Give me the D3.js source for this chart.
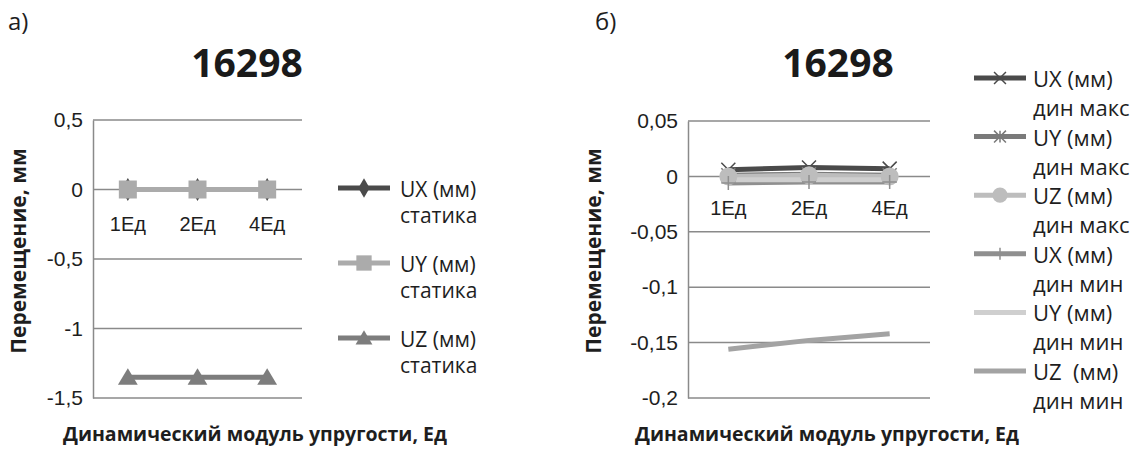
<!DOCTYPE html>
<html>
<head>
<meta charset="utf-8">
<title>16298</title>
<script src="https://cdn.jsdelivr.net/npm/d3@7"></script>
<style>
body { margin: 0; background: #fff; }
svg { font-family: "Open Sans", sans-serif; }
</style>
</head>
<body>
<svg id="chart" width="1138" height="451"></svg>
<script>
// categories (shared by both panels)
var categories = ["1Ед", "2Ед", "4Ед"];

// panel a) static displacement, mm
var staticNames = [["UX (мм)", "статика"], ["UY (мм)", "статика"], ["UZ (мм)", "статика"]];
var uxStatic = [0, 0, 0];
var uyStatic = [0, 0, 0];
var uzStatic = [-1.35, -1.35, -1.35];
var ticksA = [0.5, 0, -0.5, -1, -1.5];

// panel б) dynamic max / min, mm
var dynNames = [["UX (мм)", "дин макс"], ["UY (мм)", "дин макс"], ["UZ (мм)", "дин макс"],
                ["UX (мм)", "дин мин"], ["UY (мм)", "дин мин"], ["UZ  (мм)", "дин мин"]];
var uxMax = [0.006, 0.008, 0.007];
var uyMax = [0.001, 0.002, 0.001];
var uzMax = [0.000, 0.001, 0.000];
var uxMin = [-0.006, -0.005, -0.005];
var uyMin = [-0.003, -0.003, -0.003];
var uzMin = [-0.156, -0.148, -0.142];
var ticksB = [0.05, 0, -0.05, -0.1, -0.15, -0.2];

var svg = d3.select("#chart");
var fmt = function(d) { return String(d).replace(".", ","); };
var gridCol = "#8a8a8a";
var txtCol = "#1e1e1e";

function drawPanel(opt) {
	var g = svg.append("g");
	var x = d3.scaleBand().domain(categories).range([opt.left, opt.right]);
	var y = d3.scaleLinear().domain(opt.domain).range([opt.bottom, opt.top]);

	g.append("text").attr("x", opt.labelX).attr("y", 30)
		.style("font-size", "24px").attr("fill", txtCol).text(opt.label);
	g.append("text").attr("x", opt.titleX).attr("y", 77).attr("text-anchor", "middle")
		.style("font-size", "39px").style("font-weight", "bold").attr("fill", "#1a1a1a").text("16298");

	// gridlines
	g.selectAll(".grid").data(opt.ticks).enter().append("line")
		.attr("x1", opt.left).attr("x2", opt.right)
		.attr("y1", function(d) { return y(d); }).attr("y2", function(d) { return y(d); })
		.attr("stroke", gridCol).attr("stroke-width", 1.5);

	// y axis
	var ya = g.append("g").attr("transform", "translate(" + opt.left + ",0)")
		.call(d3.axisLeft(y).tickValues(opt.ticks).tickFormat(fmt).tickSize(0).tickPadding(10));
	ya.select(".domain").attr("stroke", gridCol).attr("stroke-width", 1.5);
	ya.selectAll("text").style("font-size", "21px").attr("fill", txtCol).attr("font-family", null);

	// category labels under zero line
	var xa = g.append("g").attr("transform", "translate(0," + y(0) + ")")
		.call(d3.axisBottom(x).tickSize(0).tickPadding(opt.catPad));
	xa.select(".domain").remove();
	xa.selectAll("text").style("font-size", "20px").attr("fill", txtCol).attr("font-family", null);

	// axis titles
	g.append("text").attr("transform", "translate(" + opt.yTitleX + ",251) rotate(-90)")
		.attr("text-anchor", "middle").style("font-size", "21px").style("font-weight", "bold")
		.attr("fill", txtCol).text("Перемещение, мм");
	g.append("text").attr("x", opt.xTitleX).attr("y", 441)
		.style("font-size", "19.5px").style("font-weight", "bold")
		.attr("fill", txtCol).text("Динамический модуль упругости, Ед");

	var line = d3.line().x(function(d, i) { return x(categories[i]) + x.bandwidth() / 2; })
		.y(function(d) { return y(d); });

	opt.series.forEach(function(s) {
		g.append("path").datum(s.values).attr("d", line)
			.attr("fill", "none").attr("stroke", s.color).attr("stroke-width", s.width || 5)
			.attr("stroke-linejoin", "round");
	});
	opt.series.forEach(function(s) {
		if (!s.marker) return;
		s.values.forEach(function(v, i) {
			drawMarker(g, s.marker, x(categories[i]) + x.bandwidth() / 2, y(v), s.mcolor || s.color, s.msize);
		});
	});

	// legend
	opt.series.forEach(function(s, i) {
		var ly = opt.legY + i * opt.legStep;
		g.append("line").attr("x1", opt.legX).attr("x2", opt.legX + 52)
			.attr("y1", ly).attr("y2", ly).attr("stroke", s.color).attr("stroke-width", s.width || 5);
		if (s.marker) drawMarker(g, s.marker, opt.legX + 26, ly, s.mcolor || s.color, s.msize * 0.85);
		g.append("text").attr("x", opt.legTextX).attr("y", ly + 9).style("white-space", "pre")
			.style("font-size", opt.legFont).attr("fill", txtCol).text(s.name[0]);
		g.append("text").attr("x", opt.legTextX).attr("y", ly + 9 + opt.legDy)
			.style("font-size", opt.legFont).attr("fill", txtCol).text(s.name[1]);
	});
}

function drawMarker(g, type, cx, cy, color, size) {
	var h = size / 2;
	if (type === "diamond") {
		g.append("path").attr("d", d3.symbol(d3.symbolDiamond, size * size * 0.6)())
			.attr("transform", "translate(" + cx + "," + cy + ")").attr("fill", color);
	} else if (type === "square") {
		g.append("rect").attr("x", cx - h).attr("y", cy - h).attr("width", size).attr("height", size).attr("fill", color);
	} else if (type === "triangle") {
		g.append("path").attr("d", "M" + cx + "," + (cy - h) + "L" + (cx + h * 1.1) + "," + (cy + h * 0.85) + "L" + (cx - h * 1.1) + "," + (cy + h * 0.85) + "Z")
			.attr("fill", color);
	} else if (type === "circle") {
		g.append("circle").attr("cx", cx).attr("cy", cy).attr("r", h).attr("fill", color);
	} else if (type === "x") {
		g.append("path").attr("d", "M" + (cx - h) + "," + (cy - h) + "L" + (cx + h) + "," + (cy + h) + "M" + (cx + h) + "," + (cy - h) + "L" + (cx - h) + "," + (cy + h))
			.attr("stroke", color).attr("stroke-width", 1.5);
	} else if (type === "star") {
		g.append("path").attr("d", "M" + (cx - h) + "," + (cy - h) + "L" + (cx + h) + "," + (cy + h) + "M" + (cx + h) + "," + (cy - h) + "L" + (cx - h) + "," + (cy + h) + "M" + cx + "," + (cy - h) + "L" + cx + "," + (cy + h))
			.attr("stroke", color).attr("stroke-width", 1.5);
	} else if (type === "plus") {
		g.append("path").attr("d", "M" + cx + "," + (cy - h) + "L" + cx + "," + (cy + h) + "M" + (cx - h) + "," + cy + "L" + (cx + h) + "," + cy)
			.attr("stroke", color).attr("stroke-width", 1.5);
	}
}

drawPanel({
	label: "а)", labelX: 8, titleX: 247,
	left: 93, right: 302, top: 120, bottom: 398,
	domain: [-1.5, 0.5], ticks: ticksA, catPad: 27,
	yTitleX: 26, xTitleX: 63,
	legX: 338, legY: 188, legStep: 75, legTextX: 400, legDy: 26, legFont: "21px",
	series: [
		{ name: staticNames[0], values: uxStatic, color: "#4a4a4a", marker: "diamond", msize: 16 },
		{ name: staticNames[1], values: uyStatic, color: "#ababab", marker: "square", msize: 18 },
		{ name: staticNames[2], values: uzStatic, color: "#7d7d7d", marker: "triangle", msize: 18 }
	]
});

drawPanel({
	label: "б)", labelX: 595, titleX: 838,
	left: 688, right: 930, top: 121, bottom: 398,
	domain: [-0.2, 0.05], ticks: ticksB, catPad: 24,
	yTitleX: 601, xTitleX: 635,
	legX: 974, legY: 78, legStep: 58.6, legTextX: 1033, legDy: 29, legFont: "22px",
	series: [
		{ name: dynNames[0], values: uxMax, color: "#4a4a4a", marker: "x", msize: 14 },
		{ name: dynNames[1], values: uyMax, color: "#7a7a7a", marker: "star", msize: 14 },
		{ name: dynNames[2], values: uzMax, color: "#bdbdbd", marker: "circle", msize: 18 },
		{ name: dynNames[3], values: uxMin, color: "#8f8f8f", marker: "plus", msize: 14 },
		{ name: dynNames[4], values: uyMin, color: "#cfcfcf" },
		{ name: dynNames[5], values: uzMin, color: "#a3a3a3" }
	]
});
</script>
</body>
</html>
